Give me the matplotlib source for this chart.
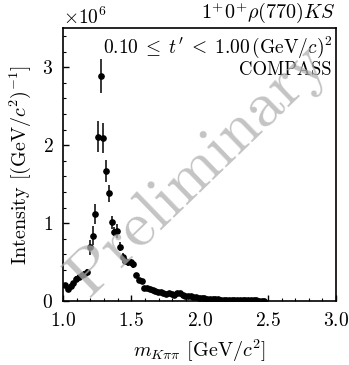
import matplotlib
matplotlib.use("Agg")
import matplotlib.pyplot as plt
from matplotlib.ticker import MultipleLocator

plt.rcParams["font.family"] = "serif"
plt.rcParams["font.serif"] = ["cmr10", "DejaVu Serif"]
plt.rcParams["mathtext.fontset"] = "cm"
plt.rcParams["axes.formatter.use_mathtext"] = True
plt.rcParams["font.size"] = 14

# bin centres of m_Kpipi [GeV/c^2]
mass = [1.015, 1.035, 1.055, 1.075, 1.095, 1.115, 1.135, 1.155, 1.175, 1.195,
        1.215, 1.235, 1.255, 1.275, 1.295, 1.315, 1.335, 1.355, 1.375, 1.395,
        1.415, 1.435, 1.455, 1.475, 1.495, 1.515, 1.535, 1.555, 1.575, 1.595,
        1.615, 1.635, 1.655, 1.675, 1.695, 1.715, 1.735, 1.755, 1.775, 1.795,
        1.815, 1.835, 1.855, 1.875, 1.895, 1.915, 1.935, 1.955, 1.975, 1.995,
        2.015, 2.035, 2.055, 2.075, 2.095, 2.115, 2.135, 2.155, 2.175, 2.195,
        2.215, 2.235, 2.255, 2.275, 2.295, 2.315, 2.335, 2.355, 2.375, 2.395,
        2.415, 2.435, 2.455, 2.475]

# intensity in units of 1e6
intensity = [0.21, 0.15, 0.19, 0.23, 0.29, 0.31, 0.33, 0.35, 0.37, 0.69,
             0.84, 1.12, 2.11, 2.89, 2.09, 1.67, 1.38, 1.01, 0.89, 0.90,
             0.70, 0.57, 0.52, 0.50, 0.50, 0.47, 0.34, 0.27, 0.26, 0.17,
             0.165, 0.155, 0.14, 0.13, 0.115, 0.12, 0.10, 0.09, 0.11, 0.09,
             0.08, 0.10, 0.10, 0.08, 0.065, 0.06, 0.06, 0.055, 0.05, 0.045,
             0.04, 0.035, 0.03, 0.028, 0.025, 0.024, 0.022, 0.02, 0.02, 0.018,
             0.017, 0.016, 0.015, 0.014, 0.013, 0.012, 0.012, 0.011, 0.01, 0.01,
             0.009, 0.008, 0.008, 0.007]

error = [0.02, 0.02, 0.02, 0.02, 0.03, 0.03, 0.03, 0.04, 0.04, 0.10,
         0.12, 0.13, 0.20, 0.22, 0.19, 0.145, 0.107, 0.08, 0.06, 0.085,
         0.06, 0.05, 0.045, 0.045, 0.045, 0.04, 0.025, 0.02, 0.02, 0.015,
         0.012, 0.012, 0.01, 0.01, 0.01, 0.01, 0.01, 0.01, 0.01, 0.01,
         0.008, 0.008, 0.008, 0.008, 0.006, 0.006, 0.006, 0.005, 0.005, 0.005,
         0.004, 0.004, 0.004, 0.003, 0.003, 0.003, 0.003, 0.003, 0.003, 0.002,
         0.002, 0.002, 0.002, 0.002, 0.002, 0.002, 0.002, 0.002, 0.002, 0.002,
         0.002, 0.002, 0.002, 0.002]

fig = plt.figure(figsize=(3.49, 3.65), dpi=100)
ax = fig.add_axes([0.181, 0.175, 0.782, 0.748])

y = [v * 1e6 for v in intensity]
yerr = [e * 1e6 for e in error]
ax.errorbar(mass, y, yerr=yerr, fmt="o", color="black", markersize=3.8,
            elinewidth=1.1, capsize=0, zorder=3)

ax.set_xlim(1.0, 3.0)
ax.set_ylim(0, 3.5e6)
ax.xaxis.set_major_locator(MultipleLocator(0.5))
ax.xaxis.set_minor_locator(MultipleLocator(0.1))
ax.yaxis.set_major_locator(MultipleLocator(1e6))
ax.yaxis.set_minor_locator(MultipleLocator(0.2e6))
ax.tick_params(which="both", direction="in", top=False, right=False,
               labelsize=14)
ax.tick_params(axis="x", pad=8)
ax.tick_params(axis="y", pad=7)
ax.tick_params(which="major", length=4, width=1)
ax.tick_params(which="minor", length=2.5, width=0.8)
ax.yaxis.get_offset_text().set_fontsize(14)
for s in ax.spines.values():
    s.set_linewidth(1.2)

ax.set_xlabel(r"$m_{K\pi\pi}$ [GeV/$c^2$]", fontsize=14.5, labelpad=5)
ax.set_ylabel(r"Intensity [(GeV/$c^2$)$^{-1}$]", fontsize=14.5, labelpad=7)

ax.text(1.0, 1.01, r"$1^{+}0^{+}\rho(770)KS$", transform=ax.transAxes,
        ha="right", va="bottom", fontsize=14.5)
ax.text(0.985, 0.975, r"$0.10\;\leq\;t'\;<\;1.00\,$(GeV/$c$)$^2$",
        transform=ax.transAxes, ha="right", va="top", fontsize=14)
ax.text(0.985, 0.88, "COMPASS", transform=ax.transAxes, ha="right", va="top",
        fontsize=13.5)

ax.text(0.5, 0.48, "Preliminary", transform=ax.transAxes, fontsize=47,
        color="#b0b0b0", alpha=0.75, rotation=44, ha="center", va="center",
        zorder=5)

fig.savefig("out.png", dpi=100)
